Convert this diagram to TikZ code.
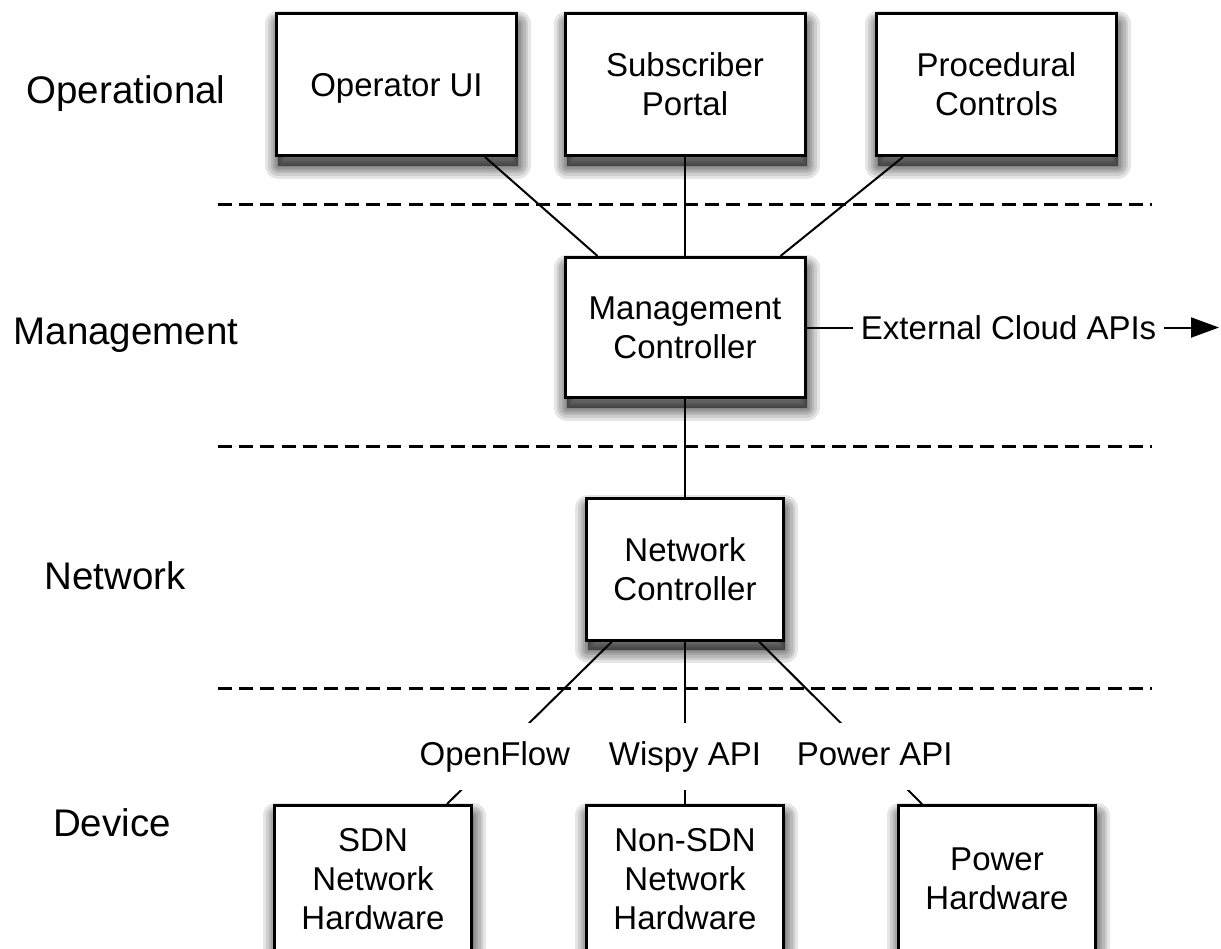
\documentclass[tikz,border=0pt]{standalone}
\usepackage{fontspec}
\setmainfont{Liberation Sans}
\usetikzlibrary{arrows.meta,calc}
\newcommand\bxfont{\fontsize{33}{39}\selectfont}
\newcommand\lyrfont{\fontsize{38.5}{44}\selectfont}
\begin{document}
\begin{tikzpicture}[x=1pt,y=-1pt,
  shl/.style={preaction={draw=black, fill=black, line width=#1, line join=round, opacity=0.1,
      transform canvas={xshift=1.5pt, yshift=-10pt}}},
  softshadow/.style={shl=26pt, shl=20pt, shl=15pt, shl=10pt, shl=6pt, shl=2pt},
  box/.style={draw=black, line width=3pt, fill=white, minimum width=240pt, minimum height=142pt,
    align=center, inner sep=0pt, font=\bxfont, softshadow},
  smallbox/.style={box, minimum width=197pt},
  conn/.style={draw=black, line width=2pt},
  lbl/.style={fill=white, font=\bxfont, inner xsep=3pt, inner ysep=18pt, text height=24pt, text depth=7pt},
  layer/.style={font=\lyrfont, anchor=base, inner sep=0pt},
  layersep/.style={line width=3pt, dash pattern=on 14pt off 7.18pt}
]
\useasboundingbox[fill=white] (0,0) rectangle (1221,948);

% layer separators
\draw[layersep] (218,204) -- (1152,204);
\draw[layersep] (218,446) -- (1152,446);
\draw[layersep] (218,688) -- (1152,688);

% layer names
\node[layer] (lop) at (126,103) {Operational};
\node[layer] (lmg) at (126,344) {Management};
\node[layer] (lnw) at (115,589) {Network};
\node[layer] (ldv) at (112,836) {Device};

% boxes
\node[box, text depth=0pt] (opui) at (396.5,84.5) {Operator UI};
\node[box] (subp) at (685,84.5) {Subscriber\\Portal};
\node[box] (proc) at (996.5,84.5) {Procedural\\Controls};
\node[box, minimum height=140pt] (mc) at (685,327.5) {Management\\Controller};
\node[smallbox] (nc) at (685,569) {Network\\Controller};
\node[smallbox, minimum height=147pt] (sdn) at (373,879) {SDN\\Network\\Hardware};
\node[smallbox, minimum height=147pt] (nonsdn) at (685,879) {Non-SDN\\Network\\Hardware};
\node[smallbox, minimum height=147pt] (power) at (997,879) {Power\\Hardware};

\coordinate (ext) at (1219,327.5);

% connectors
\draw[conn] ([xshift=88.5pt]opui.south) -- ([xshift=-87.5pt]mc.north);
\draw[conn] (subp.south) -- (mc.north);
\draw[conn] ([xshift=-93.5pt]proc.south) -- ([xshift=95.5pt]mc.north);
\draw[conn] (mc.south) -- (nc.north);
\draw[conn, -{Triangle[length=28pt,width=20pt]}] (mc.east) --
  node[fill=white, font=\bxfont, inner xsep=8pt, inner ysep=4pt, pos=0.49] (extl) {External Cloud APIs} (ext);
\draw[conn] ([xshift=-73pt]nc.south) -- node[lbl, pos=0.71] (lof) {OpenFlow} ([xshift=74pt]sdn.north);
\draw[conn] (nc.south) -- node[lbl, pos=0.71] (lwa) {Wispy API} (nonsdn.north);
\draw[conn] ([xshift=74pt]nc.south) -- node[lbl, pos=0.71] (lpa) {Power API} ([xshift=-75pt]power.north);
\end{tikzpicture}
\end{document}
